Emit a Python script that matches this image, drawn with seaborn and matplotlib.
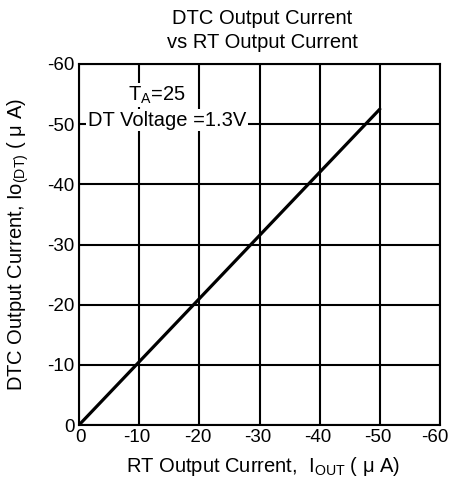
import matplotlib
matplotlib.use("Agg")
import matplotlib.pyplot as plt
import matplotlib.transforms as mtransforms
import seaborn as sns
import pandas as pd

rt_current = [0, -50]
dtc_current = [0, -52.5]
ticks = [0, -10, -20, -30, -40, -50, -60]
tick_labels = ["0", "-10", "-20", "-30", "-40", "-50", "-60"]

sns.set_theme(style="white")
plt.rcParams['font.family'] = ['Liberation Sans', 'DejaVu Sans']

fig = plt.figure(figsize=(4.5, 4.8), dpi=100)
ax = fig.add_axes([79/450, 1-425/480, (440-79)/450, (425-64)/480])

df = pd.DataFrame({"x": rt_current, "y": dtc_current})
sns.lineplot(data=df, x="x", y="y", ax=ax, color="black", linewidth=2.3)

ax.set_xlim(0, -60)
ax.set_ylim(0, -60)
ax.set_xticks(ticks)
ax.set_xticklabels(tick_labels)
ax.set_yticks(ticks)
ax.set_yticklabels(tick_labels)
ax.tick_params(axis="both", labelsize=13.5, colors="black", length=0)
ax.tick_params(axis="x", pad=3)
ax.tick_params(axis="y", pad=3)
shifts_px = [1, -2, -2, -2, -2, -2, -5]
for lbl, dx in zip(ax.get_xticklabels(), shifts_px):
    off = mtransforms.ScaledTranslation(dx/100, 0, fig.dpi_scale_trans)
    lbl.set_transform(lbl.get_transform() + off)
ax.grid(True, color="black", linewidth=1.5)
for s in ax.spines.values():
    s.set_color("black")
    s.set_linewidth(1.5)
ax.set_xlabel("")
ax.set_ylabel("")

fig.text(262/450, 1 - 18/480, "DTC Output Current", ha="center", va="center", fontsize=14.5, color="black")
fig.text(262/450, 1 - 42/480, "vs RT Output Current", ha="center", va="center", fontsize=14.5, color="black")

bbox = dict(facecolor="white", edgecolor="none", pad=1)
fig.text(157/450, 1 - 95/480, "T$_{\\mathregular{A}}$=25", ha="center", va="center", fontsize=14.5, color="black", bbox=bbox)
fig.text(167/450, 1 - 120/480, "DT Voltage =1.3V", ha="center", va="center", fontsize=14.5, color="black", bbox=bbox)

fig.text(263/450, 1 - 467/480, "RT Output Current,  I$_{\\mathregular{OUT}}$ ( \u03bc A)", ha="center", va="center", fontsize=14.5, color="black")
fig.text(18/450, 1 - 245/480, "DTC Output Current, Io$_{\\mathregular{(DT)}}$ ( \u03bc A)", ha="center", va="center", rotation=90, fontsize=14.5, color="black")

fig.savefig("out.png", dpi=100, facecolor="white")
